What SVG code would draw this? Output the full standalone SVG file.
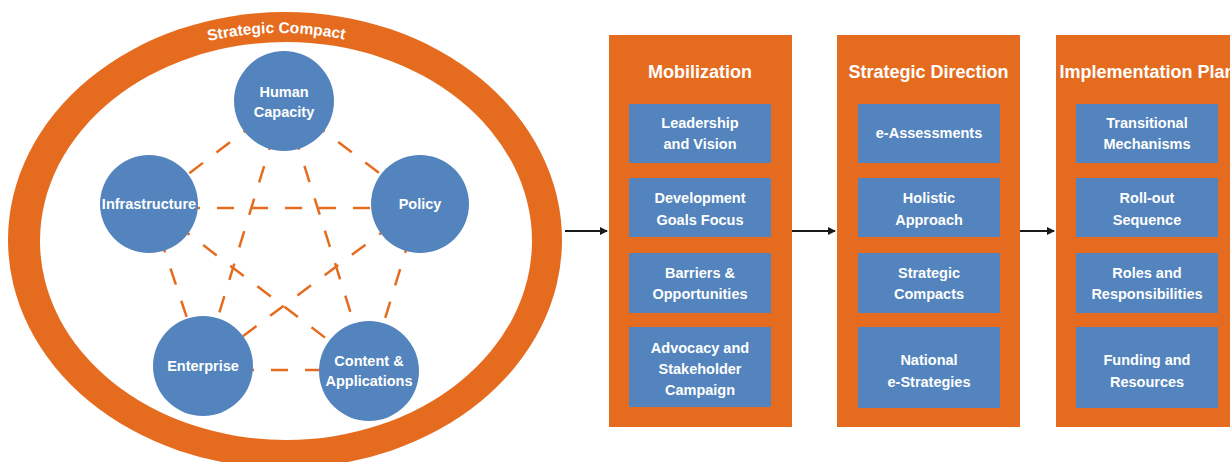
<svg xmlns="http://www.w3.org/2000/svg" width="1230" height="462" viewBox="0 0 1230 462">
  <style>
    .ring { fill: #E56C1F; }
    .inner { fill: #FFFFFF; }
    .node { fill: #5384BD; }
    .col { fill: #E56C1F; }
    .box { fill: #5384BD; }
    .dash { stroke: #E56C1F; stroke-width: 2.5; stroke-dasharray: 17 17; fill: none; }
    .arrow { stroke: #1A1A1A; stroke-width: 1.8; fill: none; marker-end: url(#ah); }
    text { font-family: "Liberation Sans", Arial, sans-serif; font-weight: bold; fill: #FFFFFF; text-anchor: middle; }
    .t { font-size: 14.5px; }
    .title { font-size: 18px; }
    .ringlabel { font-size: 15.5px; }
  </style>
  <defs>
    <marker id="ah" viewBox="0 0 8 8" refX="7" refY="4" markerWidth="8" markerHeight="8" markerUnits="userSpaceOnUse" orient="auto">
      <path d="M0,0 L8,4 L0,8 z" fill="#1A1A1A"/>
    </marker>
    <path id="arcpath" d="M 22,241 A 258 208 0 0 1 538,241"/>
  </defs>

  <g id="strategic-compact">
    <ellipse class="ring" cx="285" cy="240" rx="277" ry="228"/>
    <ellipse class="inner" cx="286" cy="241" rx="246" ry="199"/>
    <text class="ringlabel"><textPath href="#arcpath" startOffset="49.5%">Strategic Compact</textPath></text>
  </g>

  <g id="connectors">
    <line class="dash" x1="284" y1="101" x2="149" y2="204"/>
    <line class="dash" x1="284" y1="101" x2="420" y2="204"/>
    <line class="dash" x1="284" y1="101" x2="203" y2="366"/>
    <line class="dash" x1="284" y1="101" x2="369" y2="371"/>
    <line class="dash" x1="149" y1="208" x2="420" y2="208"/>
    <line class="dash" x1="149" y1="204" x2="203" y2="366"/>
    <line class="dash" x1="149" y1="204" x2="369" y2="371"/>
    <line class="dash" x1="420" y1="204" x2="203" y2="366"/>
    <line class="dash" x1="420" y1="204" x2="369" y2="371"/>
    <line class="dash" x1="203" y1="370" x2="369" y2="370"/>
    <line class="arrow" x1="565" y1="231" x2="607" y2="231"/>
    <line class="arrow" x1="792" y1="231" x2="835" y2="231"/>
    <line class="arrow" x1="1020" y1="231" x2="1054" y2="231"/>
  </g>

  <g id="node-human-capacity">
    <circle class="node" cx="284" cy="101" r="50"/>
    <text class="t" x="284" y="97">Human</text>
    <text class="t" x="284" y="117">Capacity</text>
  </g>
  <g id="node-infrastructure">
    <circle class="node" cx="149" cy="204" r="49"/>
    <text class="t" x="149" y="209">Infrastructure</text>
  </g>
  <g id="node-policy">
    <circle class="node" cx="420" cy="204" r="49"/>
    <text class="t" x="420" y="209">Policy</text>
  </g>
  <g id="node-enterprise">
    <circle class="node" cx="203" cy="366" r="50"/>
    <text class="t" x="203" y="371">Enterprise</text>
  </g>
  <g id="node-content">
    <circle class="node" cx="369" cy="371" r="50"/>
    <text class="t" x="369" y="366">Content &amp;</text>
    <text class="t" x="369" y="386">Applications</text>
  </g>

  <g id="col-mobilization">
    <rect class="col" x="609" y="35" width="183" height="392"/>
    <text class="title" x="700" y="78">Mobilization</text>
  </g>
  <g id="mob-leadership">
    <rect class="box" x="629" y="104" width="142" height="59"/>
    <text class="t" x="700" y="128">Leadership</text>
    <text class="t" x="700" y="149">and Vision</text>
  </g>
  <g id="mob-development">
    <rect class="box" x="629" y="178" width="142" height="59"/>
    <text class="t" x="700" y="203">Development</text>
    <text class="t" x="700" y="225">Goals Focus</text>
  </g>
  <g id="mob-barriers">
    <rect class="box" x="629" y="253" width="142" height="60"/>
    <text class="t" x="700" y="278">Barriers &amp;</text>
    <text class="t" x="700" y="299">Opportunities</text>
  </g>
  <g id="mob-advocacy">
    <rect class="box" x="629" y="327" width="142" height="80"/>
    <text class="t" x="700" y="353">Advocacy and</text>
    <text class="t" x="700" y="374">Stakeholder</text>
    <text class="t" x="700" y="395">Campaign</text>
  </g>

  <g id="col-strategic-direction">
    <rect class="col" x="837" y="35" width="183" height="392"/>
    <text class="title" x="928.5" y="78">Strategic Direction</text>
  </g>
  <g id="sd-eassessments">
    <rect class="box" x="858" y="104" width="142" height="59"/>
    <text class="t" x="929" y="138">e-Assessments</text>
  </g>
  <g id="sd-holistic">
    <rect class="box" x="858" y="178" width="142" height="59"/>
    <text class="t" x="929" y="203">Holistic</text>
    <text class="t" x="929" y="225">Approach</text>
  </g>
  <g id="sd-compacts">
    <rect class="box" x="858" y="253" width="142" height="60"/>
    <text class="t" x="929" y="278">Strategic</text>
    <text class="t" x="929" y="299">Compacts</text>
  </g>
  <g id="sd-national">
    <rect class="box" x="858" y="327" width="142" height="81"/>
    <text class="t" x="929" y="365">National</text>
    <text class="t" x="929" y="387">e-Strategies</text>
  </g>

  <g id="col-implementation-plan">
    <rect class="col" x="1056" y="35" width="183" height="392"/>
    <text class="title" x="1147.5" y="78">Implementation Plan</text>
  </g>
  <g id="ip-transitional">
    <rect class="box" x="1076" y="104" width="142" height="59"/>
    <text class="t" x="1147" y="128">Transitional</text>
    <text class="t" x="1147" y="149">Mechanisms</text>
  </g>
  <g id="ip-rollout">
    <rect class="box" x="1076" y="178" width="142" height="59"/>
    <text class="t" x="1147" y="203">Roll-out</text>
    <text class="t" x="1147" y="225">Sequence</text>
  </g>
  <g id="ip-roles">
    <rect class="box" x="1076" y="253" width="142" height="60"/>
    <text class="t" x="1147" y="278">Roles and</text>
    <text class="t" x="1147" y="299">Responsibilities</text>
  </g>
  <g id="ip-funding">
    <rect class="box" x="1076" y="327" width="142" height="81"/>
    <text class="t" x="1147" y="365">Funding and</text>
    <text class="t" x="1147" y="387">Resources</text>
  </g>
</svg>
